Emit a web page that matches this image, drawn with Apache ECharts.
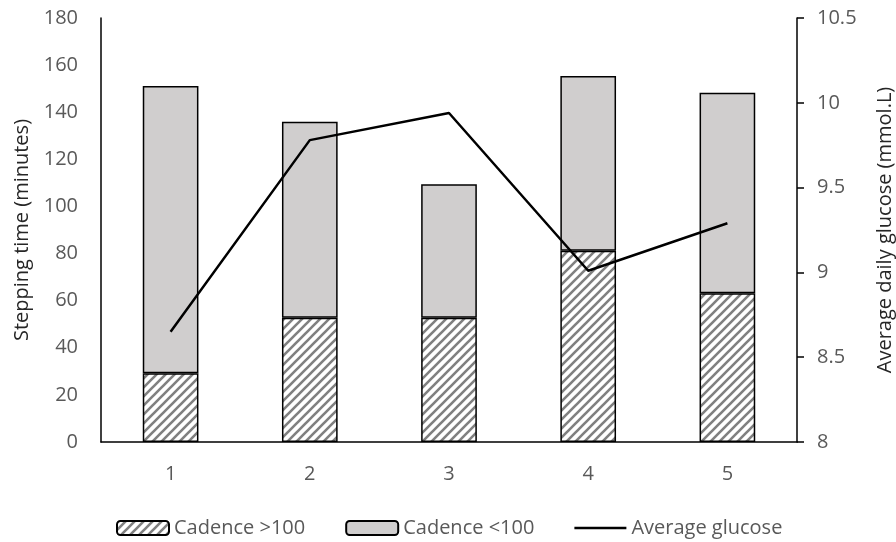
<!DOCTYPE html>
<html><head><meta charset="utf-8">
<script src="https://cdn.jsdelivr.net/npm/echarts@6/dist/echarts.min.js"></script>
<style>html,body{margin:0;padding:0;background:#fff}#c{width:896px;height:542px}</style>
</head><body><div id="c"></div>
<script>
const categories = ['1','2','3','4','5'];
const cadenceHigh = [29.2, 52.8, 52.8, 81.2, 63.1];
const cadenceLow = [121.9, 83.2, 56.6, 74.2, 85.2];
const avgGlucose = [8.65, 9.78, 9.94, 9.01, 9.29];
const leftTicks = {min: 0, max: 180, interval: 20};
const rightTicks = {min: 8, max: 10.5, interval: 0.5};

const pc = document.createElement('canvas');
pc.width = 9; pc.height = 9;
const g = pc.getContext('2d');
g.fillStyle = '#ffffff'; g.fillRect(0,0,9,9);
g.strokeStyle = '#808080'; g.lineWidth = 2.6;
g.beginPath();
g.moveTo(-1,10); g.lineTo(10,-1);
g.moveTo(-5,5); g.lineTo(5,-5);
g.moveTo(4,14); g.lineTo(14,4);
g.stroke();

const chart = echarts.init(document.getElementById('c'));
const font = 'Open Sans, Noto Sans, sans-serif';
chart.setOption({
  animation: false,
  grid: {left: 101, right: 99, top: 18, bottom: 100, outerBoundsMode: 'none', containLabel: false},
  legend: {
    top: 513, left: 111, itemGap: 40, itemWidth: 52, itemHeight: 14,
    textStyle: {color: '#595959', fontSize: 20, fontFamily: font},
    data: ['Cadence >100', 'Cadence <100',
      {name: 'Average glucose', icon: 'path://M0,0H52V2.6H0Z', itemStyle: {color: '#000'}}]
  },
  xAxis: {
    type: 'category', data: categories,
    axisLine: {lineStyle: {color: '#000', width: 1.5}},
    axisTick: {show: false},
    axisLabel: {color: '#595959', fontSize: 20, fontFamily: font, margin: 22}
  },
  yAxis: [{
    type: 'value', min: leftTicks.min, max: leftTicks.max, interval: leftTicks.interval,
    name: 'Stepping time (minutes)', nameLocation: 'middle', nameGap: 69, nameRotate: 90,
    nameTextStyle: {color: '#262626', fontSize: 20, fontFamily: font},
    axisLine: {show: true, lineStyle: {color: '#000', width: 1.5}},
    axisTick: {show: false}, splitLine: {show: false},
    axisLabel: {color: '#595959', fontSize: 20, fontFamily: font, margin: 23}
  }, {
    type: 'value', min: rightTicks.min, max: rightTicks.max, interval: rightTicks.interval, position: 'right',
    name: 'Average daily glucose (mmol.L)', nameLocation: 'middle', nameGap: 78, nameRotate: 90,
    nameTextStyle: {color: '#262626', fontSize: 20, fontFamily: font},
    axisLine: {show: true, lineStyle: {color: '#000', width: 1.5}},
    axisTick: {show: true, length: 7, lineStyle: {color: '#000', width: 1.5}},
    splitLine: {show: false},
    axisLabel: {color: '#595959', fontSize: 20, fontFamily: font, margin: 20}
  }],
  series: [{
    name: 'Cadence >100', type: 'bar', stack: 's', barWidth: '40%',
    data: cadenceHigh,
    itemStyle: {color: {image: pc, repeat: 'repeat'}, borderColor: '#000', borderWidth: 1.5}
  }, {
    name: 'Cadence <100', type: 'bar', stack: 's', barWidth: '40%',
    data: cadenceLow,
    itemStyle: {color: '#d0cece', borderColor: '#000', borderWidth: 1.5}
  }, {
    name: 'Average glucose', type: 'line', yAxisIndex: 1, data: avgGlucose,
    symbol: 'none', lineStyle: {color: '#000', width: 2.5}, itemStyle: {color: '#000'}
  }]
});
</script></body></html>
